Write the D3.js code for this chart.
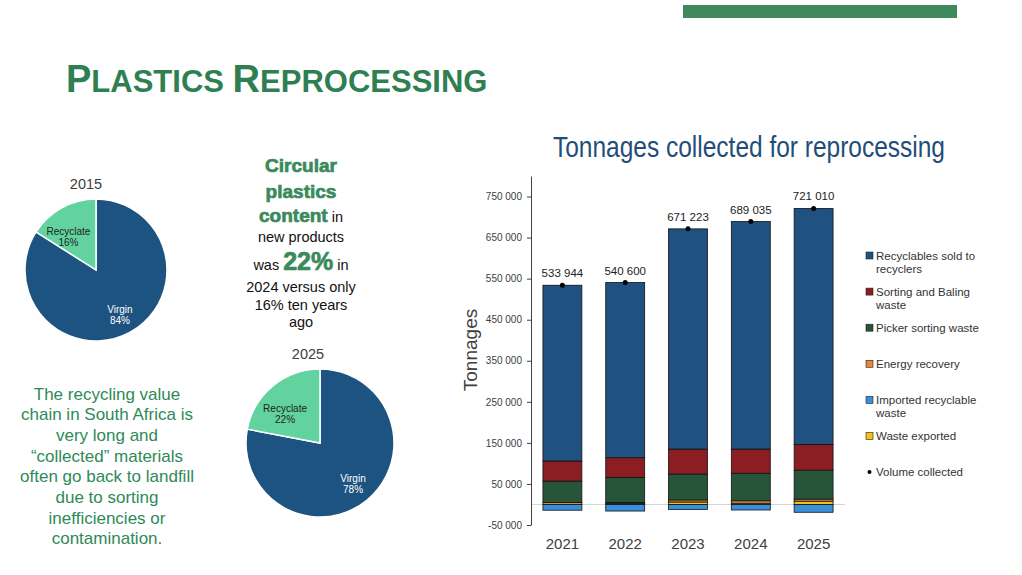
<!DOCTYPE html>
<html>
<head>
<meta charset="utf-8">
<script src="https://cdn.jsdelivr.net/npm/d3@7"></script>
<style>
  body { margin: 0; background: #fff; }
  svg { display: block; font-family: "Liberation Sans", Arial, sans-serif; }
</style>
</head>
<body>
<svg id="slide" width="1022" height="575"></svg>
<script>
// --- data ---
const years = ['2021', '2022', '2023', '2024', '2025'];
const recyclablesSold = [427944, 426600, 536223, 554035, 575010];
const sortingBaling = [49000, 48000, 61000, 59000, 62500];
const pickerSorting = [52000, 61000, 63000, 67000, 70500];
const energyRecovery = [5000, 2500, 5000, 6000, 5000];
const wasteExported = [0, 2500, 6000, 3000, 8000];
const importedRecyclable = [-14000, -16000, -12000, -13500, -19000];
const volumeCollected = [533944, 540600, 671223, 689035, 721010];
const yTickValues = [-50000, 50000, 150000, 250000, 350000, 450000, 550000, 650000, 750000];

const pie2015 = [{label: 'Virgin', value: 84}, {label: 'Recyclate', value: 16}];
const pie2025 = [{label: 'Virgin', value: 78}, {label: 'Recyclate', value: 22}];

const seriesKeys = ['wasteExported', 'energyRecovery', 'pickerSorting', 'sortingBaling', 'recyclablesSold', 'importedRecyclable'];
const seriesColor = {
    recyclablesSold: '#1f5280',
    sortingBaling: '#8b1e22',
    pickerSorting: '#27553a',
    energyRecovery: '#e8873a',
    importedRecyclable: '#3a8fdb',
    wasteExported: '#f4c20f'
};
const legendItems = [
    {key: 'recyclablesSold', lines: ['Recyclables sold to', 'recyclers']},
    {key: 'sortingBaling', lines: ['Sorting and Baling', 'waste']},
    {key: 'pickerSorting', lines: ['Picker sorting waste']},
    {key: 'energyRecovery', lines: ['Energy recovery']},
    {key: 'importedRecyclable', lines: ['Imported recyclable', 'waste']},
    {key: 'wasteExported', lines: ['Waste exported']},
    {key: 'volume', lines: ['Volume collected']}
];

const green = '#2f7f52';
const svg = d3.select('#slide');

// decorative bar + slide title
svg.append('rect').attr('x', 683).attr('y', 5).attr('width', 274).attr('height', 13).attr('fill', '#3f8a5c');

let title = svg.append('text').attr('x', 66).attr('y', 92)
    .attr('fill', green).attr('font-weight', 'bold');
[['P', 38], ['LASTICS ', 31], ['R', 38], ['EPROCESSING', 31]].forEach(([t, s]) => {
    title.append('tspan').attr('font-size', s).text(t);
});

// --- pies ---
function drawPie(data, cx, cy, r, year, titleX, titleY){
    let g = svg.append('g').attr('transform', `translate(${cx},${cy})`);
    let arcs = d3.pie().sort(null).value(d => d.value)(data);
    let arc = d3.arc().innerRadius(0).outerRadius(r);
    let colors = {Virgin: '#1d5380', Recyclate: '#62d29f'};

    // label spot: big slice at 0.7r, small slice pulled in a bit like Excel's best fit
    let labelPos = (d) => {
        let small = d.data.label == 'Recyclate';
        let a = (d.startAngle + d.endAngle) / 2 - (small ? 0.175 : 0);
        let rr = r * (small ? 0.62 : 0.7);
        return [Math.sin(a) * rr, -Math.cos(a) * rr];
    };

    g.selectAll('path').data(arcs).join('path')
        .attr('d', arc)
        .attr('fill', d => colors[d.data.label])
        .attr('stroke', '#fff')
        .attr('stroke-width', 1.5);

    let labels = g.selectAll('text.lbl').data(arcs).join('text')
        .attr('class', 'lbl')
        .attr('text-anchor', 'middle')
        .attr('font-size', 10)
        .attr('fill', d => d.data.label == 'Virgin' ? '#fff' : '#222')
        .attr('transform', d => `translate(${labelPos(d)})`);
    labels.append('tspan').attr('x', 0).attr('y', -1).text(d => d.data.label);
    labels.append('tspan').attr('x', 0).attr('y', 10).text(d => d.data.value + '%');

    svg.append('text').attr('x', titleX).attr('y', titleY)
        .attr('text-anchor', 'middle').attr('font-size', 14.5).attr('fill', '#404040')
        .text(year);
}
drawPie(pie2015, 96, 270, 71, '2015', 86, 188.5);
drawPie(pie2025, 320, 443, 74, '2025', 308, 359);

// --- centre text ---
let centreLines = [
    [{t: 'Circular', big: true}],
    [{t: 'plastics', big: true}],
    [{t: 'content', big: true}, {t: ' in'}],
    [{t: 'new products'}],
    [{t: 'was '}, {t: '22%', huge: true}, {t: ' in'}],
    [{t: '2024 versus only'}],
    [{t: '16% ten years'}],
    [{t: 'ago'}]
];
let centreY = [172, 198, 222, 242, 270, 292, 310, 327];
centreLines.forEach((parts, i) => {
    let t = svg.append('text').attr('x', 301).attr('y', centreY[i])
        .attr('text-anchor', 'middle').attr('font-size', 14.5).attr('fill', '#111');
    parts.forEach(p => {
        let s = t.append('tspan').text(p.t);
        if(p.big || p.huge){
            s.attr('font-size', p.huge ? 25 : 19).attr('font-weight', 900)
                .attr('fill', '#3a8a5c').attr('stroke', '#3a8a5c').attr('stroke-width', 0.7);
        }
    });
});

// --- left text ---
let leftLines = ['The recycling value', 'chain in South Africa is', 'very long and',
    '\u201ccollected\u201d materials', 'often go back to landfill', 'due to sorting',
    'inefficiencies or', 'contamination.'];
svg.append('g').selectAll('text').data(leftLines).join('text')
    .attr('x', 107)
    .attr('y', (d, i) => 399.5 + i * 20.7)
    .attr('text-anchor', 'middle')
    .attr('font-size', 17)
    .attr('fill', '#2e8a57')
    .text(d => d);

// --- stacked bar chart ---
let rows = years.map((y, i) => ({
    year: y,
    recyclablesSold: recyclablesSold[i],
    sortingBaling: sortingBaling[i],
    pickerSorting: pickerSorting[i],
    energyRecovery: energyRecovery[i],
    importedRecyclable: importedRecyclable[i],
    wasteExported: wasteExported[i],
    volume: volumeCollected[i]
}));

let x = d3.scaleBand().domain(years).range([531, 845]).paddingInner(0.38).paddingOuter(0.19);
let y = d3.scaleLinear().domain([-50000, 800000]).range([525, 176]);

let locale = d3.formatLocale({decimal: '.', thousands: ' ', grouping: [3], currency: ['', ''], minus: '-'});
let fmt = locale.format(',');

svg.append('text')
    .attr('x', 749).attr('y', 157)
    .attr('text-anchor', 'middle')
    .attr('font-size', 29)
    .attr('fill', '#1f4e79')
    .attr('textLength', 392)
    .attr('lengthAdjust', 'spacingAndGlyphs')
    .text('Tonnages collected for reprocessing');

svg.append('text')
    .attr('transform', 'translate(470,350) rotate(-90)')
    .attr('text-anchor', 'middle')
    .attr('dominant-baseline', 'central')
    .attr('font-size', 19)
    .attr('fill', '#404040')
    .text('Tonnages');

// zero line
svg.append('line')
    .attr('x1', 531).attr('x2', 845)
    .attr('y1', y(0)).attr('y2', y(0))
    .attr('stroke', '#d4d4d4').attr('stroke-width', 1);

let yAxis = svg.append('g')
    .attr('transform', 'translate(531,0)')
    .call(d3.axisLeft(y).tickValues(yTickValues).tickFormat(fmt).tickSize(4).tickSizeOuter(0).tickPadding(5));
yAxis.selectAll('text').attr('font-size', 10).attr('fill', '#404040').attr('font-family', null);
yAxis.selectAll('line, path').attr('stroke', '#404040');

let stacked = d3.stack().keys(seriesKeys).offset(d3.stackOffsetDiverging)(rows);
svg.append('g').selectAll('g').data(stacked).join('g')
    .attr('fill', d => seriesColor[d.key])
    .selectAll('rect').data(d => d).join('rect')
        .attr('x', d => x(d.data.year))
        .attr('width', x.bandwidth())
        .attr('y', d => y(Math.max(d[0], d[1])))
        .attr('height', d => Math.abs(y(d[0]) - y(d[1])))
        .attr('stroke', '#111')
        .attr('stroke-width', 0.8);

// volume collected dots + labels
svg.append('g').selectAll('circle').data(rows).join('circle')
    .attr('cx', d => x(d.year) + x.bandwidth() / 2)
    .attr('cy', d => y(d.volume))
    .attr('r', 2.5)
    .attr('fill', '#000');
svg.append('g').selectAll('text').data(rows).join('text')
    .attr('x', d => x(d.year) + x.bandwidth() / 2)
    .attr('y', d => y(d.volume) - 8)
    .attr('text-anchor', 'middle')
    .attr('font-size', 11.5)
    .attr('fill', '#222')
    .text(d => fmt(d.volume));

// year labels
svg.append('g').selectAll('text').data(years).join('text')
    .attr('x', d => x(d) + x.bandwidth() / 2)
    .attr('y', 549)
    .attr('text-anchor', 'middle')
    .attr('font-size', 15)
    .attr('fill', '#404040')
    .text(d => d);

// legend
let legend = svg.append('g').attr('transform', 'translate(866,0)');
legendItems.forEach((item, i) => {
    let cy = 255.5 + i * 36.1;
    if(item.key == 'volume'){
        legend.append('circle').attr('cx', 3.5).attr('cy', cy).attr('r', 2).attr('fill', '#000');
    } else {
        legend.append('rect').attr('x', 0).attr('y', cy - 3.5).attr('width', 7).attr('height', 7)
            .attr('fill', seriesColor[item.key]).attr('stroke', '#222').attr('stroke-width', 0.6);
    }
    let t = legend.append('text').attr('font-size', 11.5).attr('fill', '#333');
    item.lines.forEach((l, j) => {
        t.append('tspan').attr('x', 10).attr('y', cy + 4 + j * 13.5).text(l);
    });
});
</script>
</body>
</html>
